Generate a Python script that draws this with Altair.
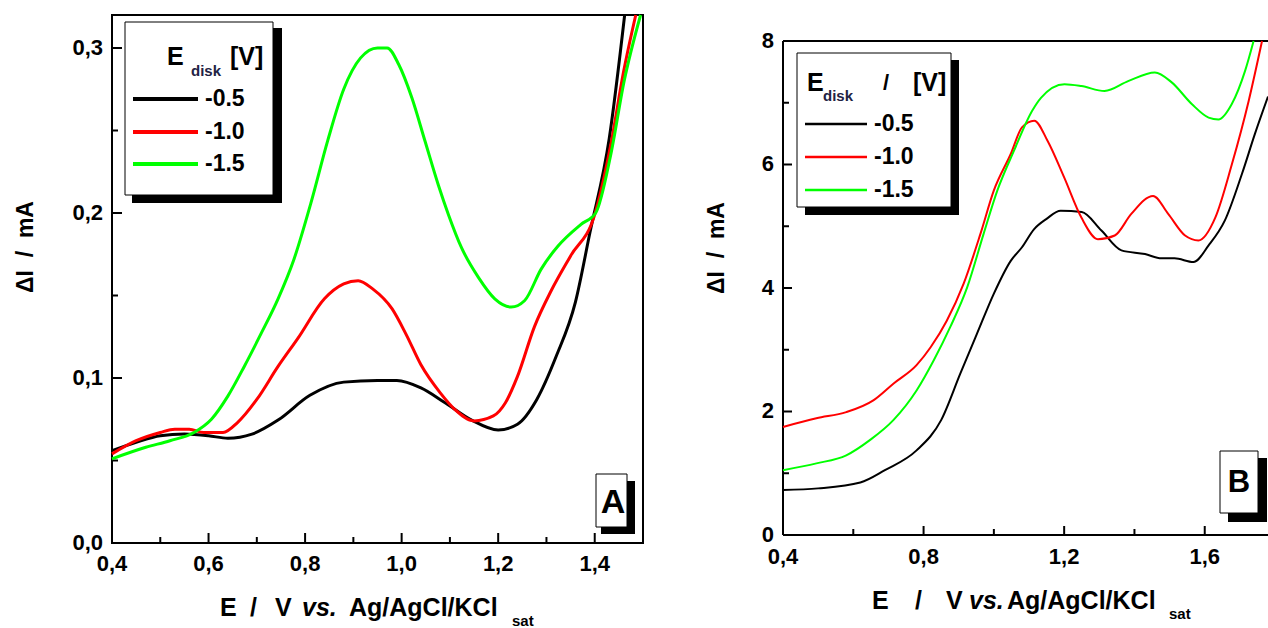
import altair as alt
import pandas as pd

FONT = "Liberation Sans"
NB = "\u00a0"

SERIES = ["-0.5", "-1.0", "-1.5"]
COLORS = ["#000000", "#ff0000", "#00ff00"]

# ---- Panel A: Delta I (mA) vs E (V) ----
a_black_E = [0.40, 0.45, 0.50, 0.55, 0.60, 0.64, 0.69, 0.744, 0.81, 0.88, 0.95, 0.99,
             1.04, 1.09, 1.145, 1.20, 1.24, 1.28, 1.32, 1.36, 1.39, 1.43, 1.462]
a_black_I = [0.056, 0.061, 0.065, 0.066, 0.065, 0.0635, 0.066, 0.0745, 0.0895, 0.0975, 0.0985, 0.0985,
             0.094, 0.085, 0.0745, 0.0685, 0.072, 0.087, 0.113, 0.146, 0.188, 0.245, 0.32]

a_red_E = [0.40, 0.45, 0.50, 0.53, 0.56, 0.59, 0.63, 0.66, 0.70, 0.744, 0.785, 0.84, 0.88, 0.91,
           0.94, 0.98, 1.01, 1.04, 1.08, 1.11, 1.15, 1.19, 1.215, 1.24, 1.275, 1.31, 1.35, 1.40,
           1.433, 1.46, 1.485]
a_red_I = [0.054, 0.062, 0.067, 0.069, 0.069, 0.067, 0.067, 0.073, 0.087, 0.107, 0.124, 0.148, 0.157, 0.159,
           0.154, 0.142, 0.126, 0.108, 0.091, 0.081, 0.074, 0.077, 0.085, 0.101, 0.131, 0.153, 0.174, 0.199,
           0.241, 0.286, 0.32]

a_green_E = [0.40, 0.47, 0.52, 0.57, 0.606, 0.64, 0.674, 0.709, 0.744, 0.777, 0.812, 0.847, 0.88, 0.915,
             0.95, 0.97, 0.994, 1.021, 1.049, 1.076, 1.097, 1.124, 1.159, 1.193, 1.227, 1.255, 1.289,
             1.324, 1.371, 1.402, 1.433, 1.461, 1.495]
a_green_I = [0.051, 0.058, 0.062, 0.067, 0.075, 0.089, 0.107, 0.127, 0.148, 0.172, 0.206, 0.244, 0.275, 0.294,
             0.300, 0.300, 0.290, 0.270, 0.243, 0.217, 0.199, 0.179, 0.161, 0.148, 0.143, 0.147, 0.166,
             0.180, 0.193, 0.200, 0.235, 0.280, 0.32]

# ---- Panel B ----
b_black_E = [0.40, 0.50, 0.62, 0.69, 0.78, 0.85, 0.905, 0.952, 1.00, 1.048, 1.08, 1.114, 1.15, 1.19,
             1.25, 1.306, 1.363, 1.43, 1.477, 1.514, 1.568, 1.611, 1.657, 1.706, 1.743, 1.78]
b_black_I = [0.73, 0.755, 0.85, 1.05, 1.37, 1.86, 2.62, 3.26, 3.91, 4.44, 4.66, 4.95, 5.12, 5.25,
             5.23, 4.93, 4.61, 4.55, 4.48, 4.48, 4.42, 4.69, 5.09, 5.85, 6.5, 7.1]

b_red_E = [0.40, 0.495, 0.58, 0.657, 0.714, 0.78, 0.82, 0.866, 0.914, 0.962, 1.00, 1.048, 1.08, 1.115,
           1.153, 1.20, 1.249, 1.296, 1.344, 1.391, 1.453, 1.496, 1.544, 1.582, 1.63, 1.677, 1.725, 1.763]
b_red_I = [1.75, 1.89, 1.99, 2.18, 2.45, 2.75, 3.04, 3.47, 4.07, 4.88, 5.58, 6.17, 6.6, 6.71,
           6.38, 5.79, 5.14, 4.79, 4.85, 5.2, 5.49, 5.2, 4.85, 4.77, 5.14, 6.0, 7.03, 8.0]

b_green_E = [0.40, 0.495, 0.58, 0.648, 0.714, 0.78, 0.829, 0.876, 0.924, 0.971, 1.01, 1.057, 1.109,
             1.134, 1.201, 1.249, 1.315, 1.382, 1.458, 1.506, 1.563, 1.611, 1.639, 1.677, 1.715, 1.739]
b_green_I = [1.05, 1.16, 1.29, 1.54, 1.86, 2.34, 2.83, 3.37, 4.01, 4.88, 5.58, 6.22, 6.87,
             7.08, 7.3, 7.27, 7.19, 7.35, 7.49, 7.33, 6.98, 6.76, 6.73, 6.98, 7.52, 8.0]

# tick positions and their labels
A_XLAB = [0.4, 0.6, 0.8, 1.0, 1.2, 1.4]
A_XTXT = ["0,4", "0,6", "0,8", "1,0", "1,2", "1,4"]
A_XMIN = [0.5, 0.7, 0.9, 1.1, 1.3]
A_YLAB = [0.0, 0.1, 0.2, 0.3]
A_YTXT = ["0,0", "0,1", "0,2", "0,3"]
A_YMIN = [0.05, 0.15, 0.25]
B_XLAB = [0.4, 0.8, 1.2, 1.6]
B_XTXT = ["0,4", "0,8", "1,2", "1,6"]
B_XMIN = [0.6, 1.0, 1.4]
B_YLAB = [0, 2, 4, 6, 8]
B_YTXT = ["0", "2", "4", "6", "8"]
B_YMIN = [1, 3, 5, 7]

A_DOM_X = [0.4, 1.5]
A_DOM_Y = [0.0, 0.32]
B_DOM_X = [0.4, 1.78]
B_DOM_Y = [0.0, 8.421]
B_TOP = 8.0

LABEL_SIZE = 22

one = pd.DataFrame({"k": [0]})


def long_table(triples):
    rows = []
    for name, es, is_ in triples:
        for e, i in zip(es, is_):
            rows.append({"E": e, "I": i, "s": name})
    return pd.DataFrame(rows)


def rule_px(x, x2, y, color="black", width=2):
    return alt.Chart(one).mark_rule(color=color, strokeWidth=width).encode(
        x=alt.value(x), x2=alt.value(x2), y=alt.value(y))


def rect_px(x, x2, y, y2, fill, stroke=None):
    kw = dict(fill=fill)
    if stroke is not None:
        kw.update(stroke=stroke, strokeWidth=1)
    return alt.Chart(one).mark_rect(**kw).encode(
        x=alt.value(x), x2=alt.value(x2), y=alt.value(y), y2=alt.value(y2))


def text_px(x, y, s, size, align="left", baseline="alphabetic", color="black",
            style="normal", angle=0):
    return alt.Chart(one).mark_text(
        align=align, baseline=baseline, font=FONT, fontWeight="bold", fontSize=size,
        color=color, fontStyle=style, angle=angle).encode(
        x=alt.value(x), y=alt.value(y), text=alt.value(s))


def ticks(vals, field, length, h, vertical):
    d = pd.DataFrame({field: vals})
    if vertical:
        return alt.Chart(d).mark_rule(color="black", strokeWidth=2).encode(
            x=alt.X(f"{field}:Q", axis=None), y=alt.value(h), y2=alt.value(h - length))
    return alt.Chart(d).mark_rule(color="black", strokeWidth=2).encode(
        y=alt.Y(f"{field}:Q", axis=None), x=alt.value(0), x2=alt.value(length))


def tick_labels(vals, texts, field, h, vertical, pad):
    d = pd.DataFrame({field: vals, "t": texts})
    if vertical:
        return alt.Chart(d).mark_text(
            align="center", baseline="top", font=FONT, fontWeight="bold",
            fontSize=LABEL_SIZE, color="black").encode(
            x=alt.X(f"{field}:Q", axis=None), y=alt.value(h + pad), text="t:N")
    return alt.Chart(d).mark_text(
        align="right", baseline="middle", font=FONT, fontWeight="bold",
        fontSize=LABEL_SIZE, color="black").encode(
        y=alt.Y(f"{field}:Q", axis=None), x=alt.value(-pad), text="t:N")


def x_title(pieces, base):
    layers = []
    for x, s, kind in pieces:
        if kind == "sub":
            layers.append(text_px(x, base + 10, s, 15))
        elif kind == "it":
            layers.append(text_px(x, base, s, 25, style="italic"))
        else:
            layers.append(text_px(x, base, s, 25))
    return layers


def legend(box, shadow, title_parts, line_x, line_ys, text_x, lw, fsize):
    layers = [rect_px(*shadow, fill="black"), rect_px(*box, fill="white", stroke="black")]
    for x, y, s, size, col in title_parts:
        layers.append(text_px(x, y, s, size, color=col))
    for name, col, y in zip(SERIES, COLORS, line_ys):
        layers.append(rule_px(line_x[0], line_x[1], y, color=col, width=lw))
        layers.append(text_px(text_x, y, name, fsize, baseline="middle"))
    return layers


Y_TITLE = f"ΔI{NB}{NB}/{NB}{NB}mA"

# ---------------- Panel A ----------------
AW, AH = 531, 528
a_df = long_table([(SERIES[0], a_black_E, a_black_I), (SERIES[1], a_red_E, a_red_I),
                   (SERIES[2], a_green_E, a_green_I)])

a_lines = alt.Chart(a_df).mark_line(strokeWidth=3, interpolate="monotone").encode(
    x=alt.X("E:Q", scale=alt.Scale(domain=A_DOM_X, nice=False, zero=False), axis=None),
    y=alt.Y("I:Q", scale=alt.Scale(domain=A_DOM_Y, nice=False, zero=False), axis=None),
    color=alt.Color("s:N", scale=alt.Scale(domain=SERIES, range=COLORS), legend=None),
)

a_frame = alt.Chart(pd.DataFrame({"E": [A_DOM_X[0]], "E2": [A_DOM_X[1]],
                                  "I": [A_DOM_Y[0]], "I2": [A_DOM_Y[1]]})).mark_rect(
    fillOpacity=0, stroke="black", strokeWidth=2).encode(
    x=alt.X("E:Q", axis=None), x2="E2:Q", y=alt.Y("I:Q", axis=None), y2="I2:Q")

a_layers = [a_frame,
            ticks(A_XLAB, "E", 10, AH, True), ticks(A_XMIN, "E", 6, AH, True),
            ticks(A_YLAB, "I", 10, AH, False), ticks(A_YMIN, "I", 6, AH, False),
            tick_labels(A_XLAB, A_XTXT, "E", AH, True, 11),
            tick_labels(A_YLAB, A_YTXT, "I", AH, False, 9),
            a_lines]
a_layers += legend(box=(13, 161, 7, 180), shadow=(20, 170, 13, 188),
                   title_parts=[(55, 50, "E", 25, "black"), (79, 61, "disk", 15, "#222244"),
                                (118, 50, "[V]", 25, "black")],
                   line_x=(21, 86), line_ys=(84, 117, 149), text_x=93, lw=4, fsize=23)
a_layers += [rect_px(489, 523, 466, 519, fill="black"),
             rect_px(484, 515, 459, 512, fill="white", stroke="black"),
             text_px(501, 498, "A", 34, align="center")]
a_layers += x_title([(108, "E", ""), (138, "/", ""), (163, "V", ""), (190, "vs.", "it"),
                     (237, "Ag/AgCl/KCl", ""), (400, "sat", "sub")], 601)
a_layers += [text_px(-86, 232, Y_TITLE, 23, align="center", baseline="middle", angle=270)]

panel_a = alt.layer(*a_layers).properties(width=AW, height=AH)

# ---------------- Panel B ----------------
BW, BH = 485, 520
b_df = long_table([(SERIES[0], b_black_E, b_black_I), (SERIES[1], b_red_E, b_red_I),
                   (SERIES[2], b_green_E, b_green_I)])

b_lines = alt.Chart(b_df).mark_line(strokeWidth=2, interpolate="monotone").encode(
    x=alt.X("E:Q", scale=alt.Scale(domain=B_DOM_X, nice=False, zero=False), axis=None),
    y=alt.Y("I:Q", scale=alt.Scale(domain=B_DOM_Y, nice=False, zero=False), axis=None),
    color=alt.Color("s:N", scale=alt.Scale(domain=SERIES, range=COLORS), legend=None),
)

b_edges = pd.DataFrame({
    "E": [B_DOM_X[0], B_DOM_X[0], B_DOM_X[0]],
    "E2": [B_DOM_X[1], B_DOM_X[0], B_DOM_X[1]],
    "I": [B_TOP, 0.0, 0.0],
    "I2": [B_TOP, B_TOP, 0.0],
})
b_frame = alt.Chart(b_edges).mark_rule(color="black", strokeWidth=2).encode(
    x=alt.X("E:Q", axis=None), x2="E2:Q", y=alt.Y("I:Q", axis=None), y2="I2:Q")

b_layers = [b_frame,
            ticks(B_XLAB, "E", 9, BH, True), ticks(B_XMIN, "E", 6, BH, True),
            ticks(B_YLAB[:-1], "I", 9, BH, False), ticks(B_YMIN, "I", 6, BH, False),
            tick_labels(B_XLAB, B_XTXT, "E", BH, True, 12),
            tick_labels(B_YLAB, B_YTXT, "I", BH, False, 9),
            b_lines]
b_layers += legend(box=(14, 168, 38, 192), shadow=(22, 176, 45, 200),
                   title_parts=[(24, 76, "E", 25, "black"), (40, 86, "disk", 15, "#222244"),
                                (100, 75, "/", 22, "black"), (130, 76, "[V]", 25, "black")],
                   line_x=(22, 84), line_ys=(109, 142, 175), text_x=91, lw=2.5, fsize=23)
b_layers += [rect_px(445, 484, 443, 507, fill="black"),
             rect_px(437, 475, 436, 498, fill="white", stroke="black"),
             text_px(456, 477, "B", 31, align="center")]
b_layers += x_title([(89, "E", ""), (132, "/", ""), (163, "V", ""), (186, "vs.", "it"),
                     (224, "Ag/AgCl/KCl", ""), (386, "sat", "sub")], 594)
b_layers += [text_px(-66, 233, Y_TITLE, 23, align="center", baseline="middle", angle=270)]

panel_b = alt.layer(*b_layers).properties(width=BW, height=BH)

chart = alt.hconcat(panel_a, panel_b, spacing=140, bounds="flush").properties(
    autosize=alt.AutoSizeParams(type="none"),
    padding={"left": 112, "top": 15, "right": 1156, "bottom": 613},
).configure_view(stroke="transparent")

chart.save("out.html", embed_options={"renderer": "svg", "actions": False})
